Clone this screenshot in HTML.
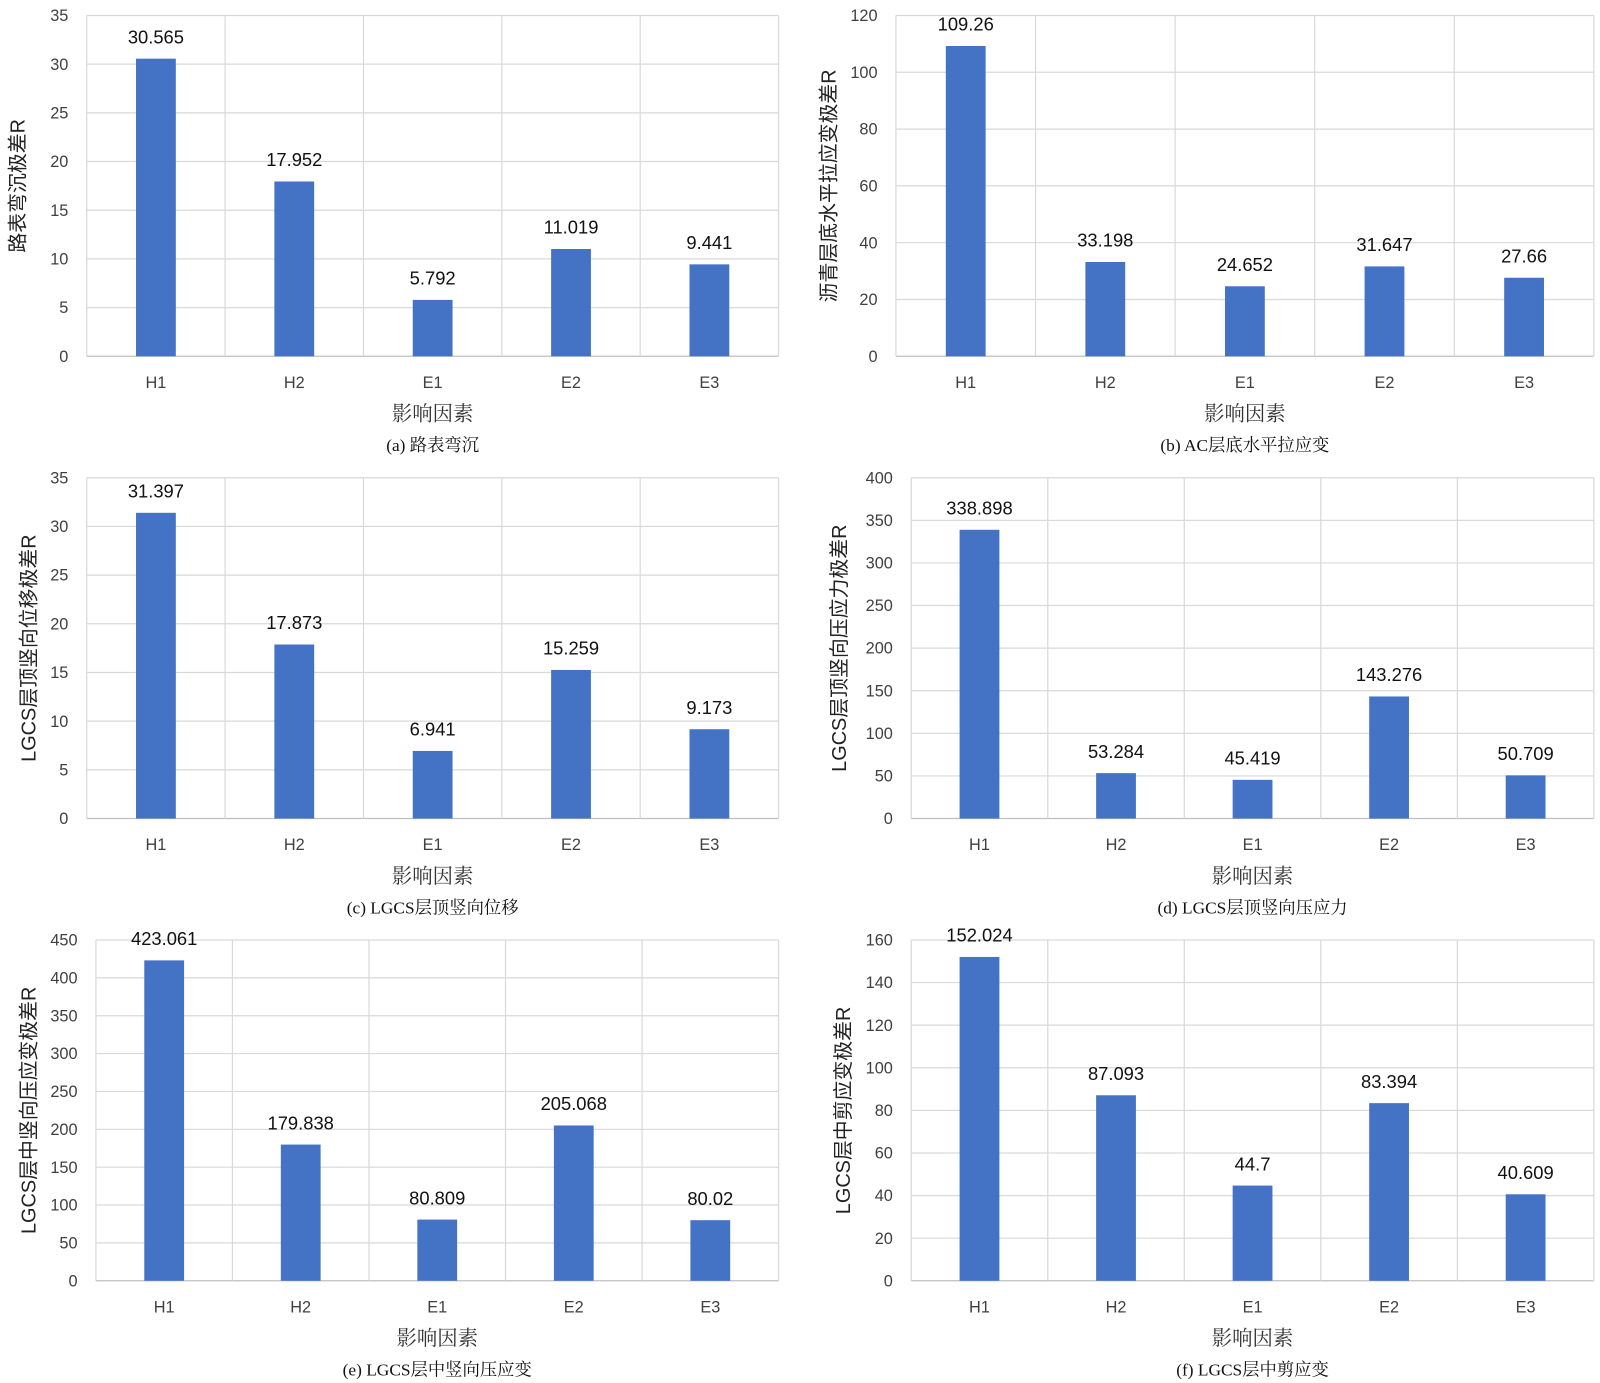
<!DOCTYPE html>
<html><head><meta charset="utf-8"><style>
html,body{margin:0;padding:0;background:#fff;}
svg{display:block;}
.tick{font-family:"Liberation Sans","Noto Sans CJK SC",sans-serif;font-size:16px;fill:#404040;}
.val{font-family:"Liberation Sans",sans-serif;font-size:18px;fill:#111;}
.xt{font-family:"Liberation Serif","Noto Serif CJK SC",serif;font-size:20px;fill:#333;}
.cap{font-family:"Liberation Serif","Noto Serif CJK SC",serif;font-size:17px;fill:#111;}
.yt{font-family:"Liberation Sans","Noto Sans CJK SC",sans-serif;font-size:19.5px;fill:#222;}
</style></head><body>
<svg id="fig" width="1600" height="1383" viewBox="0 0 1568 1355" xmlns="http://www.w3.org/2000/svg"></svg>
<script>
const categories = ["H1","H2","E1","E2","E3"];
const valuesA = [30.565,17.952,5.792,11.019,9.441];
const valuesB = [109.26,33.198,24.652,31.647,27.66];
const valuesC = [31.397,17.873,6.941,15.259,9.173];
const valuesD = [338.898,53.284,45.419,143.276,50.709];
const valuesE = [423.061,179.838,80.809,205.068,80.02];
const valuesF = [152.024,87.093,44.7,83.394,40.609];
const labelsA = ["30.565","17.952","5.792","11.019","9.441"];
const labelsB = ["109.26","33.198","24.652","31.647","27.66"];
const labelsC = ["31.397","17.873","6.941","15.259","9.173"];
const labelsD = ["338.898","53.284","45.419","143.276","50.709"];
const labelsE = ["423.061","179.838","80.809","205.068","80.02"];
const labelsF = ["152.024","87.093","44.7","83.394","40.609"];
const ticksA = [0,5,10,15,20,25,30,35];
const ticksB = [0,20,40,60,80,100,120];
const ticksC = [0,5,10,15,20,25,30,35];
const ticksD = [0,50,100,150,200,250,300,350,400];
const ticksE = [0,50,100,150,200,250,300,350,400,450];
const ticksF = [0,20,40,60,80,100,120,140,160];

const NS="http://www.w3.org/2000/svg";
const svg=document.getElementById('fig');
function mk(tag,attrs,parent,text){const e=document.createElementNS(NS,tag);for(const k in attrs)e.setAttribute(k,attrs[k]);if(text!==undefined)e.textContent=text;parent.appendChild(e);return e;}

const panels=[
 {id:'a',x0:85,x1:763,y0:15,y1:349,vals:valuesA,labs:labelsA,ticks:ticksA,yt:'路表弯沉极差R',ytx:18,cap:'(a) 路表弯沉'},
 {id:'b',x0:878,x1:1562,y0:15,y1:349,vals:valuesB,labs:labelsB,ticks:ticksB,yt:'沥青层底水平拉应变极差R',ytx:813,cap:'(b) AC层底水平拉应变'},
 {id:'c',x0:85,x1:763,y0:468,y1:802,vals:valuesC,labs:labelsC,ticks:ticksC,yt:'LGCS层顶竖向位移极差R',ytx:29,cap:'(c) LGCS层顶竖向位移'},
 {id:'d',x0:893,x1:1562,y0:468,y1:802,vals:valuesD,labs:labelsD,ticks:ticksD,yt:'LGCS层顶竖向压应力极差R',ytx:823,cap:'(d) LGCS层顶竖向压应力'},
 {id:'e',x0:94,x1:763,y0:921,y1:1255,vals:valuesE,labs:labelsE,ticks:ticksE,yt:'LGCS层中竖向压应变极差R',ytx:29,cap:'(e) LGCS层中竖向压应变'},
 {id:'f',x0:893,x1:1562,y0:921,y1:1255,vals:valuesF,labs:labelsF,ticks:ticksF,yt:'LGCS层中剪应变极差R',ytx:827,cap:'(f) LGCS层中剪应变'}
];

panels.forEach(p=>{
 const g=mk('g',{},svg);
 
 
 const max=p.ticks[p.ticks.length-1];
 const y=v=>p.y1-(v/max)*(p.y1-p.y0);
 const cw=(p.x1-p.x0)/categories.length;
 const xc=i=>p.x0+cw*(i+0.5);
 const bw=39;
 p.ticks.forEach(t=>{
  const l=mk('line',{x1:p.x0,x2:p.x1,y1:y(t),y2:y(t),stroke:t===0?'#bfbfbf':'#d9d9d9','stroke-width':1.2},g);
  
  
  const tx=mk('text',{x:p.x0-18,y:y(t)+5.5,'text-anchor':'end',class:'tick'},g,String(t));
  
  
 });
 for(let i=0;i<=categories.length;i++){
  const l=mk('line',{x1:p.x0+cw*i,x2:p.x0+cw*i,y1:p.y0,y2:p.y1,stroke:'#d9d9d9','stroke-width':1.2},g);
  
  
 }
 categories.forEach((c,i)=>{
  const v=p.vals[i];
  const r=mk('rect',{x:xc(i)-bw/2,y:y(v),width:bw,height:p.y1-y(v),fill:'#4472C4'},g);
  
  
  const t=mk('text',{x:xc(i),y:y(v)-15,'text-anchor':'middle',class:'val'},g,p.labs[i]);
  
  
  const ct=mk('text',{x:xc(i),y:p.y1+31,'text-anchor':'middle',class:'tick'},g,c);
  
  
 });
 const xm=(p.x0+p.x1)/2;
 const xt=mk('text',{x:xm,y:p.y1+63,'text-anchor':'middle',class:'xt'},g,'影响因素');
 
 
 const cp=mk('text',{x:xm,y:p.y1+93,'text-anchor':'middle',class:'cap'},g,p.cap);
 
 
 const ym=(p.y0+p.y1)/2;
 const yt=mk('text',{x:p.ytx,y:ym,'text-anchor':'middle','dominant-baseline':'central',class:'yt',transform:`rotate(-90 ${p.ytx} ${ym})`},g,p.yt);
 
 
});
</script>
</body></html>
